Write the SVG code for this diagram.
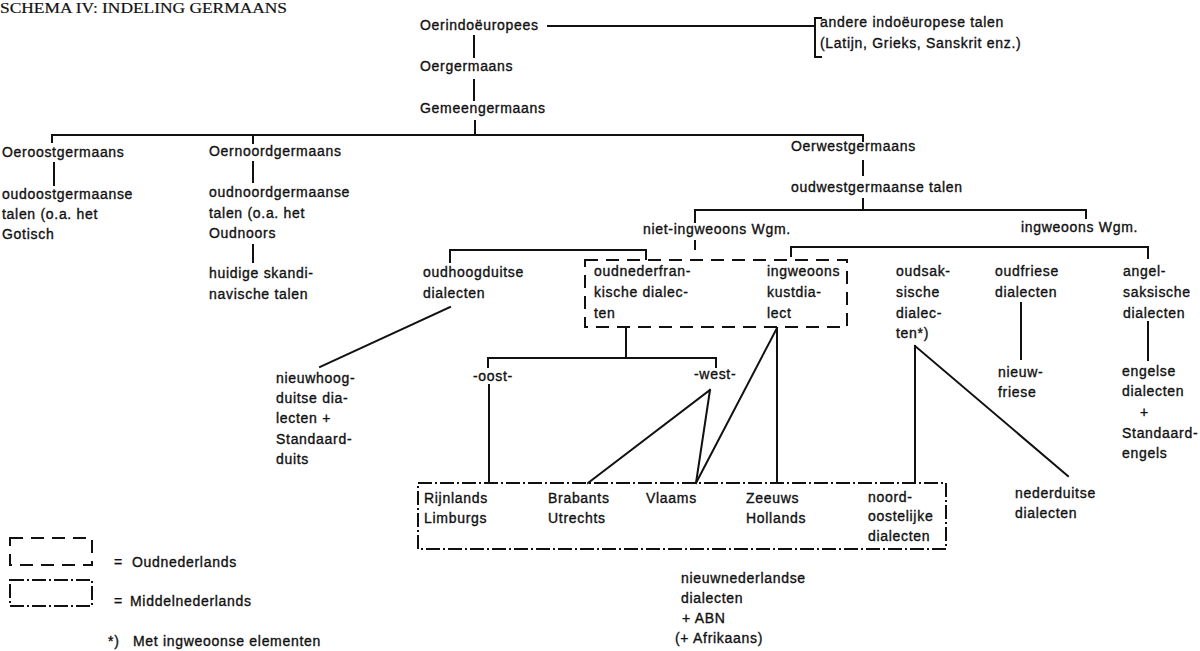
<svg xmlns="http://www.w3.org/2000/svg" width="1200" height="651" viewBox="0 0 1200 651">
<style>
text{font-family:"Liberation Sans","Arial",sans-serif;font-size:14px;letter-spacing:0.7px;fill:#111;stroke:#111;stroke-width:0.35px}
.title{font-family:"Liberation Serif","Times New Roman",serif;font-size:15px;letter-spacing:0;stroke-width:0.2px}
.ln{fill:none;stroke:#111;stroke-width:2;stroke-linecap:square}
.dash{fill:none;stroke:#111;stroke-width:2;stroke-dasharray:13 8}
.dd{fill:none;stroke:#111;stroke-width:2;stroke-dasharray:14 3 2 3}
</style>
<rect width="1200" height="651" fill="#fff"/>
<text class="title" x="0" y="13" textLength="287" lengthAdjust="spacingAndGlyphs">SCHEMA IV: INDELING GERMAANS</text>

<g id="connectors">
<path class="ln" d="M548,26 H815"/>
<path class="ln" d="M821,18 H815 V57 H821"/>
<path class="ln" d="M474,36 V57"/>
<path class="ln" d="M474,80 V100"/>
<path class="ln" d="M475,121 V135"/>
<path class="ln" d="M52,142 V135 H863 V141"/>
<path class="ln" d="M253,135 V143"/>
<path class="ln" d="M54,163 V185"/>
<path class="ln" d="M253,162 V182"/>
<path class="ln" d="M253,245 V262"/>
<path class="ln" d="M863,161 V175"/>
<path class="ln" d="M863,199 V210"/>
<path class="ln" d="M695,222 V210 H1086 V218"/>
<path class="ln" d="M695,241 V249"/>
<path class="ln" d="M450,262 V250 H646 V259"/>
<path class="ln" d="M791,256 V247 H1148 V258"/>
<path class="ln" d="M450,307 L320,367"/>
<path class="ln" d="M626,328 V358"/>
<path class="ln" d="M488,367 V358 H716 V367"/>
<path class="ln" d="M489,385 V483"/>
<path class="ln" d="M710,390 L588,483 M710,390 L696,483"/>
<path class="ln" d="M777,328 L696,483 M777,328 V483"/>
<path class="ln" d="M915,346 V482 M915,346 L1068,476"/>
<path class="ln" d="M1021,303 V359"/>
<path class="ln" d="M1148,322 V360"/>
</g>

<g id="oerindoeuropees"><text x="420" y="30">Oerindoëuropees</text></g>
<g id="andere-talen"><text x="820" y="27">andere indoëuropese talen</text><text x="820" y="48">(Latijn, Grieks, Sanskrit enz.)</text></g>
<g id="oergermaans"><text x="420" y="71">Oergermaans</text></g>
<g id="gemeengermaans"><text x="420" y="113">Gemeengermaans</text></g>

<g id="oeroostgermaans"><text x="2" y="157">Oeroostgermaans</text></g>
<g id="oudoostgermaanse"><text x="2" y="199">oudoostgermaanse</text><text x="2" y="219">talen (o.a. het</text><text x="2" y="239">Gotisch</text></g>

<g id="oernoordgermaans"><text x="209" y="156">Oernoordgermaans</text></g>
<g id="oudnoordgermaanse"><text x="209" y="197">oudnoordgermaanse</text><text x="209" y="218">talen (o.a. het</text><text x="209" y="238">Oudnoors</text></g>
<g id="skandinavisch"><text x="209" y="278">huidige skandi-</text><text x="209" y="299">navische talen</text></g>

<g id="oerwestgermaans"><text x="791" y="151">Oerwestgermaans</text></g>
<g id="oudwestgermaanse"><text x="791" y="192">oudwestgermaanse talen</text></g>
<g id="niet-ingweoons"><text x="643" y="234">niet-ingweoons Wgm.</text></g>
<g id="ingweoons"><text x="1021" y="232">ingweoons Wgm.</text></g>

<g id="oudhoogduitse"><text x="423" y="277">oudhoogduitse</text><text x="423" y="298">dialecten</text></g>
<g id="nieuwhoogduitse"><text x="276" y="383">nieuwhoog-</text><text x="276" y="403">duitse dia-</text><text x="276" y="423">lecten +</text><text x="276" y="444">Standaard-</text><text x="276" y="464">duits</text></g>

<g id="oudnederlands-box"><rect class="dash" x="585" y="260" width="262" height="67"/></g>
<g id="oudnederfrankisch"><text x="594" y="276">oudnederfran-</text><text x="594" y="297">kische dialec-</text><text x="594" y="318">ten</text></g>
<g id="kustdialect"><text x="767" y="276">ingweoons</text><text x="767" y="297">kustdia-</text><text x="767" y="318">lect</text></g>

<g id="oudsaksisch"><text x="896" y="276">oudsak-</text><text x="896" y="297">sische</text><text x="896" y="318">dialec-</text><text x="896" y="338">ten*)</text></g>
<g id="oudfries"><text x="995" y="276">oudfriese</text><text x="995" y="297">dialecten</text></g>
<g id="angelsaksisch"><text x="1123" y="276">angel-</text><text x="1123" y="297">saksische</text><text x="1123" y="318">dialecten</text></g>

<g id="oost"><text x="473" y="381">-oost-</text></g>
<g id="west"><text x="694" y="379">-west-</text></g>
<g id="nieuwfries"><text x="998" y="377">nieuw-</text><text x="998" y="397">friese</text></g>
<g id="engels"><text x="1122" y="376">engelse</text><text x="1122" y="396">dialecten</text><text x="1140" y="417">+</text><text x="1122" y="438">Standaard-</text><text x="1122" y="458">engels</text></g>

<g id="middelnederlands-box"><rect class="dd" x="418" y="483" width="528" height="66"/></g>
<g id="rijnlands"><text x="424" y="503">Rijnlands</text><text x="424" y="523">Limburgs</text></g>
<g id="brabants"><text x="548" y="503">Brabants</text><text x="548" y="523">Utrechts</text></g>
<g id="vlaams"><text x="646" y="503">Vlaams</text></g>
<g id="zeeuws"><text x="746" y="503">Zeeuws</text><text x="746" y="523">Hollands</text></g>
<g id="noordoostelijk"><text x="868" y="502">noord-</text><text x="868" y="521">oostelijke</text><text x="868" y="541">dialecten</text></g>
<g id="nederduitse"><text x="1015" y="498">nederduitse</text><text x="1015" y="518">dialecten</text></g>
<g id="nieuwnederlands"><text x="681" y="583">nieuwnederlandse</text><text x="681" y="603">dialecten</text><text x="682" y="623">+ ABN</text><text x="675" y="643">(+ Afrikaans)</text></g>

<g id="legend">
<rect class="dash" x="10" y="538" width="82" height="27"/>
<text x="114" y="567">=</text><text x="132" y="567">Oudnederlands</text>
<rect class="dd" x="10" y="580" width="82" height="26"/>
<text x="114" y="606">=</text><text x="130" y="606">Middelnederlands</text>
<text x="108" y="646">*)</text><text x="133" y="646">Met ingweoonse elementen</text>
</g>
</svg>
